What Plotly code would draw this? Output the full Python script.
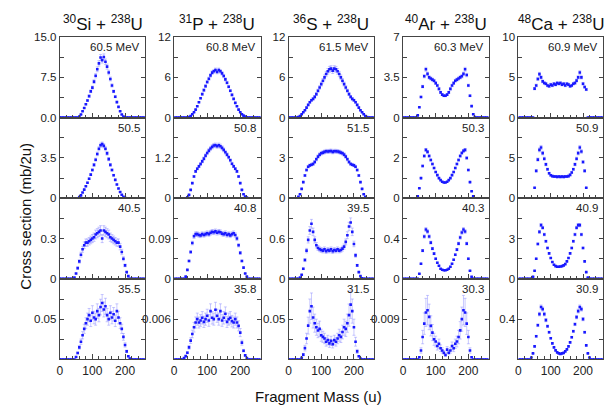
import plotly.graph_objects as go

# ---------------- data ----------------
mass = [0, 5, 10, 15, 20, 25, 30, 35, 40, 45,
        50, 55, 60, 65, 70, 75, 80, 85, 90, 95,
        100, 105, 110, 115, 120, 125, 130, 135, 140, 145,
        150, 155, 160, 165, 170, 175, 180, 185, 190, 195,
        200, 205, 210, 215, 220, 225, 230, 235, 240, 245,
        250, 255, 260]

systems = ["<sup>30</sup>Si + <sup>238</sup>U", "<sup>31</sup>P + <sup>238</sup>U",
           "<sup>36</sup>S + <sup>238</sup>U", "<sup>40</sup>Ar + <sup>238</sup>U",
           "<sup>48</sup>Ca + <sup>238</sup>U"]

energies = [["60.5", "50.5", "40.5", "35.5"],
            ["60.8", "50.8", "40.8", "35.8"],
            ["61.5", "51.5", "39.5", "31.5"],
            ["60.3", "50.3", "40.3", "30.3"],
            ["60.9", "50.9", "40.9", "30.9"]]

# y-axis ranges per column (rows top->bottom)
y_max = [[15, 7, 0.6, 0.1],
         [12, 2.4, 0.18, 0.012],
         [12, 6, 1.2, 0.1],
         [7, 4, 0.8, 0.018],
         [10, 10, 6, 0.8]]

# labelled y ticks per panel (value: text)
y_labels = [[{0: "0.0", 7.5: "7.5", 15: "15.0"}, {0: "0", 3.5: "3.5"}, {0: "0", 0.3: "0.3"}, {0.05: "0.05"}],
            [{0: "0", 6: "6", 12: "12"}, {0: "0", 1.2: "1.2"}, {0: "0", 0.09: "0.09"}, {0.006: "0.006"}],
            [{0: "0", 6: "6", 12: "12"}, {0: "0", 3: "3"}, {0: "0", 0.6: "0.6"}, {0.05: "0.05"}],
            [{0: "0", 3.5: "3.5", 7: "7"}, {0: "0", 2: "2"}, {0: "0", 0.4: "0.4"}, {0.009: "0.009"}],
            [{0: "0", 5: "5", 10: "10"}, {0: "0", 5: "5"}, {0: "0", 3: "3"}, {0.4: "0.4"}]]

# relative error bar size per panel
rel_err = [[0.05, 0.04, 0.10, 0.15],
           [0.04, 0.04, 0.05, 0.15],
           [0.06, 0.04, 0.08, 0.25],
           [0.04, 0.03, 0.04, 0.30],
           [0.04, 0.04, 0.03, 0.04]]

si_605 = [0, 0, 0, 0, 0, 0, 0, 0, 0, 0,
          0, 0, 0.2, 0.6, 1.2, 1.8, 2.5, 3.2, 4.0, 4.9,
          5.6, 6.7, 7.8, 9.0, 10.1, 11.2, 10.7, 11.3, 10.4, 9.5,
          8.4, 7.2, 6.0, 4.9, 3.9, 2.9, 2.0, 1.2, 0.6, 0.2,
          0.05, 0, 0, 0, 0, 0, 0, 0, 0, 0,
          0, 0, 0]
si_505 = [0, 0, 0, 0, 0, 0, 0, 0, 0, 0,
          0, 0, 0.1, 0.25, 0.5, 0.75, 1.05, 1.35, 1.7, 2.05,
          2.45, 2.9, 3.35, 3.85, 4.3, 4.6, 4.7, 4.55, 4.3, 3.9,
          3.4, 2.9, 2.45, 2.0, 1.6, 1.2, 0.85, 0.55, 0.3, 0.12,
          0.05, 0, 0, 0, 0, 0, 0, 0, 0, 0,
          0, 0, 0]
si_405 = [0, 0, 0, 0, 0, 0, 0, 0, 0, 0.01,
          0.04, 0.08, 0.13, 0.18, 0.22, 0.25, 0.27, 0.27, 0.28, 0.29,
          0.3, 0.31, 0.33, 0.34, 0.35, 0.36, 0.3, 0.36, 0.35, 0.34,
          0.33, 0.31, 0.3, 0.29, 0.28, 0.27, 0.27, 0.24, 0.2, 0.15,
          0.1, 0.05, 0.02, 0, 0, 0, 0, 0, 0, 0,
          0, 0, 0]
si_355 = [0, 0, 0, 0, 0, 0, 0, 0, 0, 0,
          0.003, 0.008, 0.015, 0.022, 0.03, 0.038, 0.045, 0.05, 0.055, 0.048,
          0.058, 0.052, 0.05, 0.06, 0.055, 0.065, 0.07, 0.062, 0.066, 0.055,
          0.05, 0.058, 0.052, 0.056, 0.048, 0.06, 0.052, 0.045, 0.038, 0.028,
          0.018, 0.01, 0.004, 0.001, 0, 0, 0, 0, 0, 0,
          0, 0, 0]

p_608 = [0, 0, 0, 0, 0, 0, 0, 0, 0, 0.1,
         0.25, 0.5, 0.8, 1.2, 1.7, 2.3, 2.9, 3.5, 4.1, 4.7,
         5.3, 5.8, 6.3, 6.7, 6.9, 7.1, 6.8, 7.1, 6.9, 6.6,
         6.2, 5.7, 5.2, 4.6, 4.0, 3.4, 2.8, 2.2, 1.7, 1.2,
         0.8, 0.5, 0.3, 0.15, 0.07, 0.03, 0, 0, 0, 0,
         0, 0, 0]
p_508 = [0, 0, 0, 0, 0, 0, 0, 0, 0.03, 0.1,
         0.25, 0.45, 0.65, 0.8, 0.88, 0.95, 1.02, 1.1, 1.18, 1.27,
         1.35, 1.42, 1.48, 1.53, 1.57, 1.58, 1.55, 1.58, 1.55, 1.5,
         1.44, 1.37, 1.3, 1.22, 1.13, 1.03, 0.95, 0.88, 0.8, 0.65,
         0.45, 0.25, 0.12, 0.05, 0.02, 0, 0, 0, 0, 0,
         0, 0, 0]
p_408 = [0, 0, 0, 0, 0, 0, 0, 0.005, 0.02, 0.04,
         0.06, 0.08, 0.095, 0.1, 0.1, 0.098, 0.097, 0.1, 0.098, 0.1,
         0.102, 0.1, 0.103, 0.105, 0.104, 0.106, 0.103, 0.105, 0.104, 0.101,
         0.1, 0.102, 0.098, 0.1, 0.097, 0.1, 0.102, 0.098, 0.09, 0.075,
         0.058, 0.04, 0.025, 0.012, 0.005, 0, 0, 0, 0, 0,
         0, 0, 0]
p_358 = [0, 0, 0, 0, 0, 0, 0.0002, 0.0005, 0.001, 0.0018,
         0.0028, 0.0038, 0.0048, 0.0055, 0.006, 0.0055, 0.0058, 0.0062, 0.0056, 0.006,
         0.0065, 0.0058, 0.0072, 0.0062, 0.006, 0.0074, 0.0065, 0.006, 0.0072, 0.0058,
         0.0062, 0.0068, 0.0056, 0.006, 0.0062, 0.0057, 0.0055, 0.006, 0.0055, 0.005,
         0.004, 0.0025, 0.0013, 0.0006, 0.0002, 0, 0, 0, 0, 0,
         0, 0, 0]

s_615 = [0, 0, 0, 0, 0, 0, 0.1, 0.25, 0.5, 0.8,
         1.1, 1.5, 1.9, 2.3, 2.6, 2.8, 3.1, 3.5, 4.0, 4.5,
         5.0, 5.5, 6.0, 6.5, 6.9, 7.2, 7.3, 7.0, 7.3, 7.2,
         6.9, 6.5, 6.0, 5.5, 5.0, 4.5, 4.0, 3.5, 3.1, 2.8,
         2.6, 2.3, 1.9, 1.5, 1.1, 0.8, 0.5, 0.25, 0.1, 0,
         0, 0, 0]
s_515 = [0, 0, 0, 0, 0, 0, 0.1, 0.3, 0.7, 1.2,
         1.7, 2.1, 2.35, 2.45, 2.5, 2.55, 2.7, 2.9, 3.1, 3.25,
         3.35, 3.4, 3.45, 3.5, 3.48, 3.5, 3.52, 3.45, 3.5, 3.5,
         3.48, 3.45, 3.4, 3.35, 3.25, 3.1, 2.9, 2.7, 2.55, 2.5,
         2.45, 2.35, 2.1, 1.7, 1.2, 0.7, 0.3, 0.1, 0, 0,
         0, 0, 0]
s_395 = [0, 0, 0, 0, 0, 0, 0, 0.02, 0.06, 0.15,
         0.28, 0.42, 0.58, 0.72, 0.82, 0.7, 0.58, 0.5, 0.46, 0.44,
         0.43, 0.42, 0.44, 0.41, 0.43, 0.42, 0.44, 0.41, 0.43, 0.42,
         0.44, 0.42, 0.43, 0.45, 0.48, 0.55, 0.65, 0.78, 0.84, 0.7,
         0.52, 0.35, 0.2, 0.1, 0.04, 0.01, 0, 0, 0, 0,
         0, 0, 0]
s_315 = [0, 0, 0, 0, 0, 0, 0, 0, 0.002, 0.006,
         0.014, 0.026, 0.042, 0.06, 0.066, 0.052, 0.045, 0.04, 0.036, 0.038,
         0.03, 0.028, 0.026, 0.022, 0.024, 0.02, 0.023, 0.019, 0.024, 0.022,
         0.026, 0.03, 0.028, 0.034, 0.04, 0.038, 0.045, 0.055, 0.068, 0.06,
         0.04, 0.022, 0.01, 0.004, 0.001, 0, 0, 0, 0, 0,
         0, 0, 0]

ar_603 = [0, 0, 0, 0, 0, 0, 0, 0, 0, 0.2,
          0.9, 1.8, 2.7, 3.6, 4.2, 3.8, 3.5, 3.4, 3.3, 3.2,
          3.0, 2.8, 2.5, 2.2, 2.0, 1.9, 1.9, 2.0, 2.2, 2.5,
          2.8, 3.0, 3.2, 3.3, 3.4, 3.5, 3.6, 3.8, 4.2, 3.7,
          2.8, 1.9, 1.0, 0.3, 0.05, 0, 0, 0, 0, 0,
          0, 0, 0]
ar_503 = [0, 0, 0, 0, 0, 0, 0, 0, 0, 0.1,
          0.5, 1.0, 1.6, 2.1, 2.4, 2.3, 2.1, 1.9, 1.7, 1.5,
          1.3, 1.15, 1.0, 0.9, 0.82, 0.78, 0.78, 0.82, 0.9, 1.0,
          1.15, 1.3, 1.5, 1.7, 1.9, 2.1, 2.25, 2.35, 2.4, 2.0,
          1.4, 0.8, 0.35, 0.1, 0, 0, 0, 0, 0, 0,
          0, 0, 0]
ar_403 = [0, 0, 0, 0, 0, 0, 0, 0, 0, 0,
          0.05, 0.15, 0.28, 0.42, 0.49, 0.47, 0.42, 0.36, 0.3, 0.25,
          0.2, 0.16, 0.13, 0.1, 0.09, 0.085, 0.085, 0.09, 0.1, 0.12,
          0.15, 0.19, 0.24, 0.29, 0.35, 0.41, 0.46, 0.49, 0.47, 0.35,
          0.2, 0.08, 0.02, 0, 0, 0, 0, 0, 0, 0,
          0, 0, 0]
ar_303 = [0, 0, 0, 0, 0, 0, 0, 0, 0, 0,
          0.0005, 0.002, 0.005, 0.008, 0.0105, 0.011, 0.0095, 0.0075, 0.006, 0.0045,
          0.004, 0.003, 0.0035, 0.0025, 0.002, 0.0015, 0.001, 0.0022, 0.0015, 0.002,
          0.003, 0.0025, 0.0035, 0.004, 0.005, 0.0065, 0.009, 0.011, 0.0105, 0.008,
          0.005, 0.002, 0.0005, 0, 0, 0, 0, 0, 0, 0,
          0, 0, 0]

ca_609 = [0, 0, 0, 0, 0, 0, 0, 0, 0, 0,
          3.6, 4.0, 4.8, 5.4, 5.0, 4.5, 4.3, 4.2, 4.0, 3.9,
          4.1, 4.0, 4.2, 4.1, 4.3, 4.2, 4.3, 4.1, 4.2, 4.0,
          4.2, 4.1, 3.9, 4.0, 4.2, 4.3, 4.6, 5.0, 5.6, 5.0,
          4.2, 3.8, 3.5, 0, 0, 0, 0, 0, 0, 0,
          0, 0, 0]
ca_509 = [0, 0, 0, 0, 0, 0, 0, 0, 0, 0,
          1.3, 3.4, 4.8, 6.0, 6.3, 5.6, 4.9, 4.2, 3.6, 3.1,
          2.85, 2.75, 2.7, 2.7, 2.65, 2.7, 2.65, 2.7, 2.65, 2.7,
          2.7, 2.75, 2.9, 3.2, 3.6, 4.2, 4.9, 5.6, 6.3, 5.8,
          4.5, 3.4, 1.3, 0, 0, 0, 0, 0, 0, 0,
          0, 0, 0]
ca_409 = [0, 0, 0, 0, 0, 0, 0, 0, 0, 0.15,
          0.6, 1.5, 2.6, 3.5, 4.0, 3.8, 3.3, 2.8, 2.3, 1.9,
          1.55, 1.25, 1.05, 0.95, 0.9, 0.9, 0.92, 0.95, 1.0, 1.1,
          1.3, 1.55, 1.9, 2.3, 2.8, 3.3, 3.8, 4.0, 4.0, 3.3,
          2.3, 1.3, 0.5, 0.1, 0, 0, 0, 0, 0, 0,
          0, 0, 0]
ca_309 = [0, 0, 0, 0, 0, 0, 0, 0, 0.02, 0.06,
          0.13, 0.23, 0.34, 0.45, 0.52, 0.5, 0.45, 0.39, 0.33, 0.27,
          0.21, 0.16, 0.12, 0.09, 0.07, 0.06, 0.055, 0.06, 0.065, 0.08,
          0.1, 0.13, 0.17, 0.22, 0.28, 0.35, 0.42, 0.48, 0.52, 0.5,
          0.4, 0.27, 0.14, 0.06, 0.02, 0, 0, 0, 0, 0,
          0, 0, 0]

series = [[si_605, si_505, si_405, si_355],
          [p_608, p_508, p_408, p_358],
          [s_615, s_515, s_395, s_315],
          [ar_603, ar_503, ar_403, ar_303],
          [ca_609, ca_509, ca_409, ca_309]]

x_tickvals = [0, 100, 200]

# ---------------- layout geometry ----------------
W, H = 612, 414
col_px = [(57, 143), (172, 259), (287, 373), (402, 488), (518, 603)]
row_px = [(32, 115), (115, 198), (198, 281), (281, 364)]
FONT = "Liberation Sans, Arial, Helvetica, sans-serif"


def fx(px):
    return px / W


def fy(py):
    return 1 - py / H


fig = go.Figure()
layout = dict(width=W, height=H, margin=dict(l=0, r=0, t=0, b=0),
              paper_bgcolor="white", plot_bgcolor="white", showlegend=False,
              font=dict(family=FONT, size=11.5, color="#222"))
annotations = []

k = 0
for c in range(5):
    for r in range(4):
        k += 1
        xa = "xaxis" if k == 1 else f"xaxis{k}"
        ya = "yaxis" if k == 1 else f"yaxis{k}"
        xr = "x" if k == 1 else f"x{k}"
        yr = "y" if k == 1 else f"y{k}"
        vals = series[c][r]
        errs = [v * rel_err[c][r] for v in vals]
        fig.add_trace(go.Scatter(
            x=mass, y=vals, mode="markers", xaxis=xr, yaxis=yr,
            marker=dict(symbol="square", size=2.6, color="rgb(25,25,255)", line=dict(width=0)),
            error_y=dict(type="data", array=errs, visible=True,
                         color="rgba(120,120,255,0.4)", thickness=1, width=1.5),
            cliponaxis=True))
        ymax = y_max[c][r]
        quarter = [0, ymax / 4, ymax / 2, 3 * ymax / 4, ymax]
        labs = y_labels[c][r]
        x0, x1 = col_px[c]
        y0, y1 = row_px[r]
        layout[xa] = dict(domain=[fx(x0), fx(x1)], range=[0, 262], anchor=yr,
                          showgrid=False, zeroline=False, showline=True, linecolor="#444",
                          linewidth=1, mirror=True, ticks="inside", ticklen=5, tickcolor="#444",
                          tickvals=x_tickvals, showticklabels=(r == 3),
                          tickfont=dict(size=12),
                          minor=dict(dtick=20, tick0=0, ticks="inside", ticklen=3, tickcolor="#444"))
        layout[ya] = dict(domain=[fy(y1), fy(y0)], range=[0, ymax], anchor=xr,
                          showgrid=False, zeroline=False, showline=True, linecolor="#444",
                          linewidth=1, mirror="ticks", ticks="inside", ticklen=4, tickcolor="#444",
                          tickvals=list(labs.keys()), ticktext=list(labs.values()),
                          tickfont=dict(size=11.5),
                          minor=dict(tickvals=quarter, ticks="inside", ticklen=4, tickcolor="#444"))
        label = energies[c][r] + (" MeV" if r == 0 else "")
        annotations.append(dict(text=label, xref="paper", yref="paper",
                                x=fx(x1 - 3), y=fy(y0 + 2), xanchor="right", yanchor="top",
                                showarrow=False, font=dict(size=11.5, color="#222")))
    annotations.append(dict(text=systems[c], xref="paper", yref="paper",
                            x=fx((col_px[c][0] + col_px[c][1]) / 2), y=fy(18),
                            xanchor="center", yanchor="middle", showarrow=False,
                            font=dict(size=17, color="#111")))

annotations.append(dict(text="Fragment Mass (u)", xref="paper", yref="paper",
                        x=fx(317), y=fy(402), xanchor="center", yanchor="middle",
                        showarrow=False, font=dict(size=15, color="#111")))
annotations.append(dict(text="Cross section (mb/2u)", xref="paper", yref="paper",
                        x=fx(23), y=fy(216), xanchor="center", yanchor="middle", textangle=-90,
                        showarrow=False, font=dict(size=15, color="#111")))
layout["annotations"] = annotations
fig.update_layout(**layout)
fig.write_html("out.html", config={"displayModeBar": False},
               post_script="document.body.style.margin='0px';document.body.style.overflow='hidden';")
